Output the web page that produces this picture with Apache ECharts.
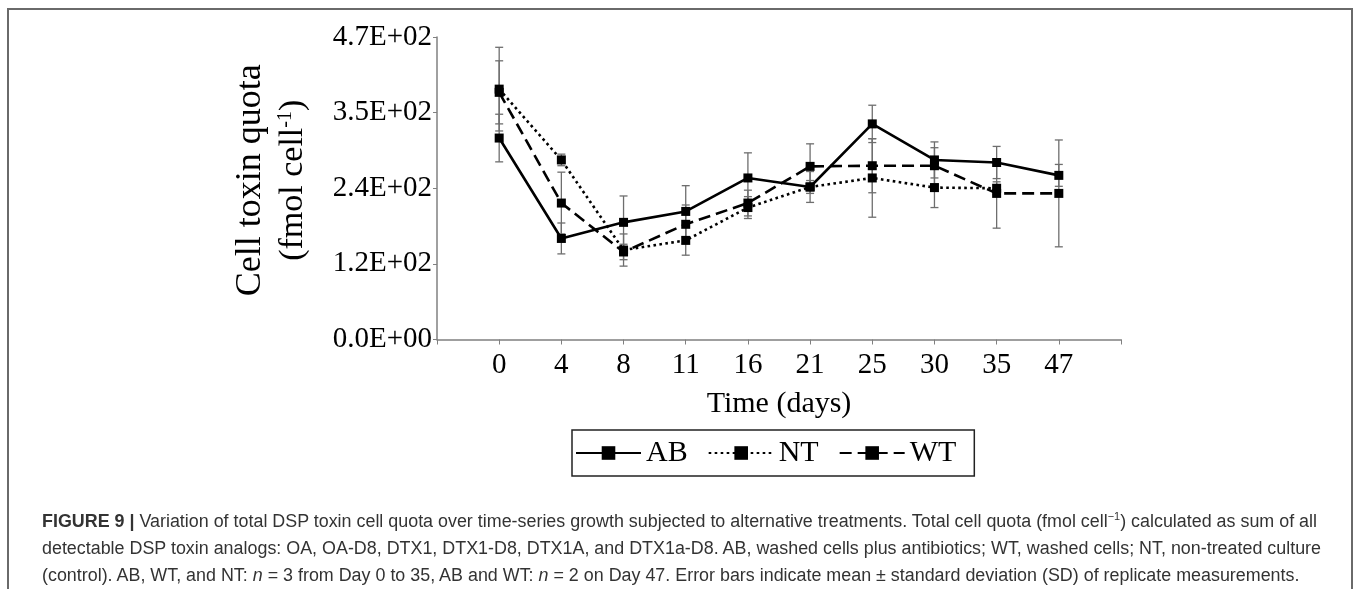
<!DOCTYPE html>
<html>
<head>
<meta charset="utf-8">
<script src="https://cdn.jsdelivr.net/npm/echarts@6/dist/echarts.min.js"></script>
<style>
  html, body { margin: 0; padding: 0; background: #fff; }
  #wrap { position: relative; width: 1357px; height: 589px; overflow: hidden; }
  #chart { position: absolute; left: 0; top: 0; width: 1357px; height: 589px; }
  #frame { position: absolute; left: 7px; top: 8px; width: 1346px; height: 640px;
           border: 2px solid #6a6a6a; box-sizing: border-box; pointer-events: none; }
  .cap { position: absolute; left: 42px; white-space: nowrap; transform-origin: 0 50%;
         font-family: "Liberation Sans Narrow", "Liberation Sans", Arial, sans-serif;
         font-size: 18px; color: #333; line-height: 20px; }
  .cap sup { font-size: 11px; line-height: 0; }
</style>
</head>
<body>
<div id="wrap">
  <div id="chart"></div>
  <div id="frame"></div>
  <div class="cap" id="c1" style="top:511px"><b>FIGURE 9 |</b> Variation of total DSP toxin cell quota over time-series growth subjected to alternative treatments. Total cell quota (fmol cell<sup>−1</sup>) calculated as sum of all</div>
  <div class="cap" id="c2" style="top:538px">detectable DSP toxin analogs: OA, OA-D8, DTX1, DTX1-D8, DTX1A, and DTX1a-D8. AB, washed cells plus antibiotics; WT, washed cells; NT, non-treated culture</div>
  <div class="cap" id="c3" style="top:565px">(control). AB, WT, and NT: <i>n</i> = 3 from Day 0 to 35, AB and WT: <i>n</i> = 2 on Day 47. Error bars indicate mean ± standard deviation (SD) of replicate measurements.</div>
</div>
<script>
// ---- data ----
const days = ['0', '4', '8', '11', '16', '21', '25', '30', '35', '47'];
const yTickLabels = ['0.0E+00', '1.2E+02', '2.4E+02', '3.5E+02', '4.7E+02'];
const abValues = [313, 157, 182, 199, 251, 237, 335, 279, 275, 255];
const abErrors = [37, 24, 41, 40, 39, 24, 29, 28, 25, 17];
const ntValues = [389, 279, 139, 154, 205, 237, 251, 236, 235, null];
const ntErrors = [65, 9, 25, 23, 17, 10, 61, 31, 10, null];
const wtValues = [384, 212, 136, 179, 212, 269, 270, 270, 227, 227];
const wtErrors = [49, 48, 12, 30, 20, 35, 42, 28, 54, 83];

// ---- build ----
const axisCats = [''].concat(days, ['']);
function pts(vals) {
  const out = [];
  vals.forEach((v, i) => { if (v !== null) out.push([days[i], v]); });
  return out;
}
function errs(vals, es) {
  const out = [];
  vals.forEach((v, i) => { if (v !== null && es[i] !== null) out.push([days[i], v - es[i], v + es[i]]); });
  return out;
}
function renderErr(params, api) {
  const x = api.value(0);
  const lo = api.coord([x, api.value(1)]);
  const hi = api.coord([x, api.value(2)]);
  const w = 4;
  const st = { stroke: '#6e6e6e', lineWidth: 1.3 };
  return { type: 'group', children: [
    { type: 'line', shape: { x1: lo[0], y1: lo[1], x2: hi[0], y2: hi[1] }, style: st },
    { type: 'line', shape: { x1: lo[0] - w, y1: lo[1], x2: lo[0] + w, y2: lo[1] }, style: st },
    { type: 'line', shape: { x1: hi[0] - w, y1: hi[1], x2: hi[0] + w, y2: hi[1] }, style: st }
  ]};
}
const serif = '"Liberation Serif", "Times New Roman", serif';
function lineSeries(name, vals, type) {
  return {
    name: name, type: 'line', data: pts(vals), z: 5,
    symbol: 'rect', symbolSize: 9, connectNulls: false,
    itemStyle: { color: '#000' },
    lineStyle: { color: '#000', width: 2.6, type: type },
    emphasis: { disabled: true }, animation: false
  };
}
function errSeries(vals, es) {
  return { type: 'custom', renderItem: renderErr, data: errs(vals, es),
           encode: { x: 0, y: [1, 2] }, z: 2, silent: true, animation: false };
}

const chart = echarts.init(document.getElementById('chart'));
chart.setOption({
  animation: false,
  backgroundColor: '#fff',
  textStyle: { fontFamily: serif },
  grid: { left: 437, right: 236, top: 37, bottom: 249.5 },
  legend: {
    data: ['AB', 'NT', 'WT'],
    left: 572, top: 430,
    orient: 'horizontal',
    itemWidth: 65, itemHeight: 17, itemGap: 20,
    padding: [8, 18, 8, 3],
    borderColor: '#222', borderWidth: 1.5,
    textStyle: { fontFamily: serif, fontSize: 30, color: '#000', padding: [2, 0, 0, 0] },
    inactiveColor: '#000'
  },
  xAxis: {
    type: 'category', data: axisCats, boundaryGap: false,
    name: 'Time (days)', nameLocation: 'middle', nameGap: 50,
    nameTextStyle: { fontFamily: serif, fontSize: 30, color: '#000' },
    axisLine: { lineStyle: { color: '#808080', width: 1.5 } },
    axisTick: { show: true, length: 5, inside: false, alignWithLabel: true, interval: 0, lineStyle: { color: '#808080' } },
    axisLabel: { fontFamily: serif, fontSize: 29, color: '#000', margin: 11, interval: 0 },
    splitLine: { show: false }
  },
  yAxis: {
    type: 'value', min: 0, max: 470, interval: 117.5,
    name: '{a|Cell toxin quota}\n{b|(fmol cell}{s|-1}{b|)}',
    nameLocation: 'middle', nameRotate: 90, nameGap: 122,
    nameTextStyle: {
      fontFamily: serif, color: '#000', align: 'center', padding: [0, 0, 0, 16],
      rich: {
        a: { fontFamily: serif, fontSize: 36, lineHeight: 43, color: '#000' },
        b: { fontFamily: serif, fontSize: 34, lineHeight: 43, color: '#000' },
        s: { fontFamily: serif, fontSize: 20, lineHeight: 43, color: '#000', verticalAlign: 'top', padding: [4, 0, 0, 0] }
      }
    },
    axisLine: { show: true, lineStyle: { color: '#808080', width: 1.5 } },
    axisTick: { show: true, length: 4, lineStyle: { color: '#808080' } },
    axisLabel: { fontFamily: serif, fontSize: 29, color: '#000', margin: 5,
                 formatter: v => yTickLabels[Math.round(v / 117.5)] },
    splitLine: { show: false }
  },
  series: [
    errSeries(abValues, abErrors),
    errSeries(ntValues, ntErrors),
    errSeries(wtValues, wtErrors),
    lineSeries('AB', abValues, 'solid'),
    lineSeries('NT', ntValues, [2.6, 3.4]),
    lineSeries('WT', wtValues, [12, 6])
  ]
});

// caption width fit (condensed face)
const c1 = document.getElementById('c1');
const k = 1275 / c1.getBoundingClientRect().width;
['c1', 'c2', 'c3'].forEach(id => { document.getElementById(id).style.transform = 'scaleX(' + k + ')'; });
</script>
</body>
</html>
